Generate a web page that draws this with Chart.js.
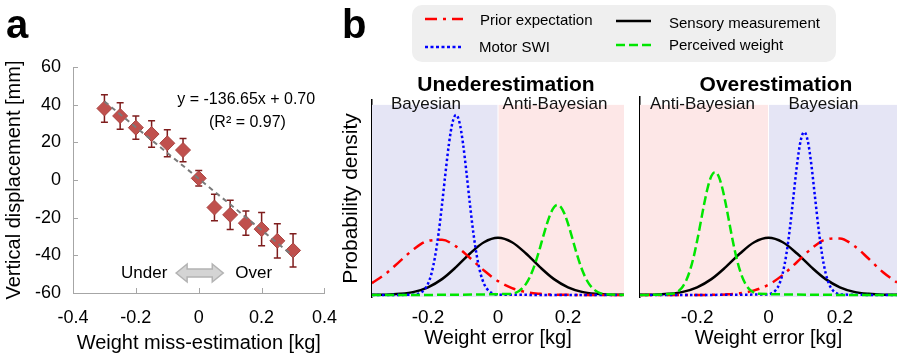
<!DOCTYPE html>
<html>
<head>
<meta charset="utf-8">
<script src="https://cdn.jsdelivr.net/npm/chart.js@4.4.1/dist/chart.umd.min.js"></script>
<style>
  body { margin: 0; background: #fff; width: 899px; height: 359px; position: relative; overflow: hidden; }
  canvas { position: absolute; top: 0; }
  #overlay { position: absolute; left: 0; top: 0; z-index: 2; pointer-events: none; }
  #overlay text { font-family: "Liberation Sans", Arial, sans-serif; fill: #000; }
</style>
</head>
<body>
<canvas id="chartA" width="340" height="359" style="left:0"></canvas>
<canvas id="chartUnder" width="300" height="359" style="left:330px"></canvas>
<canvas id="chartOver" width="269" height="359" style="left:630px"></canvas>

<svg id="overlay" width="899" height="359">
  <text x="6" y="38" font-size="40" font-weight="bold">a</text>
  <text x="342" y="38" font-size="40" font-weight="bold">b</text>
  <g transform="translate(412,5)">
    <rect width="424" height="57" rx="10" fill="#efefef"/>
    <line x1="13" x2="51" y1="14" y2="14" stroke="#ff0000" stroke-width="2.5" stroke-dasharray="12 6 3 6"/>
    <text x="68" y="20" font-size="15">Prior expectation</text>
    <line x1="13" x2="51" y1="42" y2="42" stroke="#0000ff" stroke-width="2.5" stroke-dasharray="3 2.5"/>
    <text x="67" y="47" font-size="15">Motor SWI</text>
    <line x1="204" x2="239" y1="16" y2="16" stroke="#000" stroke-width="2.5"/>
    <text x="257" y="23" font-size="15">Sensory measurement</text>
    <line x1="204" x2="239" y1="40" y2="40" stroke="#00e600" stroke-width="2.5" stroke-dasharray="9 4"/>
    <text x="257" y="45" font-size="15">Perceived weight</text>
  </g>
  <text x="506" y="91" font-size="21" font-weight="bold" text-anchor="middle">Unederestimation</text>
  <text x="776" y="91" font-size="21" font-weight="bold" text-anchor="middle">Overestimation</text>
</svg>

<script>
// ---- panel a: displacement vs miss-estimation ----
const missEst = [-0.3, -0.25, -0.2, -0.15, -0.1, -0.05, 0, 0.05, 0.1, 0.15, 0.2, 0.25, 0.3];
const displacement = [38.0, 34.0, 27.8, 24.4, 19.5, 15.9, 0.9, -14.6, -18.5, -22.9, -26.1, -32.3, -37.4];
const displacementErr = [7.3, 7.0, 6.2, 7.0, 7.2, 6.2, 4.1, 7.1, 7.8, 6.5, 8.8, 9.1, 8.8];
const fitX = [-0.3, 0.3];
const fitY = [41.7, -40.3];
const aXTicks = [-0.4, -0.2, 0, 0.2, 0.4];
const aYTicks = [-60, -40, -20, 0, 20, 40, 60];

// ---- panel b: curves ----
const bTicks = [-0.2, 0, 0.2];
const wideX = [-0.36, -0.32, -0.28, -0.24, -0.2, -0.16, -0.12, -0.08, -0.04, 0, 0.04, 0.08, 0.12, 0.16, 0.2, 0.24, 0.28, 0.32, 0.36];
const sensory = [0.01, 0.02, 0.08, 0.22, 0.54, 1.11, 1.95, 2.90, 3.69, 4.0, 3.69, 2.90, 1.95, 1.11, 0.54, 0.22, 0.08, 0.02, 0.01];
const priorUnder = [0.83, 1.50, 2.37, 3.22, 3.79, 3.86, 3.40, 2.59, 1.71, 0.97, 0.48, 0.20, 0.08, 0.02, 0.01, 0, 0, 0, 0];
const priorOver = [0, 0, 0, 0, 0, 0.01, 0.04, 0.12, 0.32, 0.72, 1.40, 2.31, 3.24, 3.88, 3.96, 3.44, 2.55, 1.61, 0.87];

const motorUnderX = [-0.36, -0.24, -0.23, -0.22, -0.21, -0.2, -0.19, -0.18, -0.17, -0.16, -0.15, -0.14, -0.13, -0.12,
  -0.11, -0.1, -0.09, -0.08, -0.07, -0.06, -0.05, -0.04, -0.03, -0.02, -0.01, 0, 0.36];
const motorUnder = [0, 0.02, 0.07, 0.17, 0.38, 0.79, 1.51, 2.66, 4.27, 6.31, 8.54, 10.60, 12.07, 12.6,
  12.07, 10.60, 8.54, 6.31, 4.27, 2.66, 1.51, 0.79, 0.38, 0.17, 0.07, 0.02, 0];
const perceivedUnderX = [-0.36, 0.04, 0.05, 0.06, 0.07, 0.08, 0.09, 0.1, 0.11, 0.12, 0.13, 0.14, 0.15, 0.16, 0.17,
  0.18, 0.19, 0.2, 0.21, 0.22, 0.23, 0.24, 0.25, 0.26, 0.27, 0.28, 0.29, 0.3, 0.36];
const perceivedUnder = [0, 0.08, 0.15, 0.28, 0.48, 0.78, 1.21, 1.78, 2.49, 3.30, 4.17, 4.99, 5.68, 6.14, 6.3,
  6.14, 5.68, 4.99, 4.17, 3.30, 2.49, 1.78, 1.21, 0.78, 0.48, 0.28, 0.15, 0.08, 0];

const motorOverX = [-0.36, 0, 0.01, 0.02, 0.03, 0.04, 0.05, 0.06, 0.07, 0.08, 0.09, 0.1,
  0.11, 0.12, 0.13, 0.14, 0.15, 0.16, 0.17, 0.18, 0.19, 0.2, 0.36];
const motorOver = [0, 0.04, 0.13, 0.33, 0.75, 1.54, 2.84, 4.69, 6.91, 9.13, 10.78, 11.4,
  10.78, 9.13, 6.91, 4.69, 2.84, 1.54, 0.75, 0.33, 0.13, 0.04, 0];
const perceivedOverX = [-0.36, -0.27, -0.26, -0.25, -0.24, -0.23, -0.22, -0.21, -0.2, -0.19, -0.18, -0.17, -0.16, -0.15,
  -0.14, -0.13, -0.12, -0.11, -0.1, -0.09, -0.08, -0.07, -0.06, -0.05, -0.04, -0.03, 0.36];
const perceivedOver = [0, 0.08, 0.16, 0.32, 0.60, 1.05, 1.72, 2.63, 3.78, 5.08, 6.40, 7.54, 8.32, 8.6,
  8.32, 7.54, 6.40, 5.08, 3.78, 2.63, 1.72, 1.05, 0.60, 0.32, 0.16, 0.08, 0];

const FONT = '"Liberation Sans", Arial, sans-serif';
Chart.defaults.font.family = FONT;
Chart.defaults.color = '#000';

// error bars, inward tick marks and the text/arrow annotations of panel a
const panelAExtras = {
  id: 'panelAExtras',
  beforeDatasetsDraw(chart) {
    const { ctx, scales: { x, y } } = chart;
    ctx.save();
    ctx.strokeStyle = '#7f1d1d';
    ctx.lineWidth = 1.5;
    missEst.forEach((v, i) => {
      const px = x.getPixelForValue(v);
      const top = y.getPixelForValue(displacement[i] + displacementErr[i]);
      const bot = y.getPixelForValue(displacement[i] - displacementErr[i]);
      ctx.beginPath();
      ctx.moveTo(px, top); ctx.lineTo(px, bot);
      ctx.moveTo(px - 3.5, top); ctx.lineTo(px + 3.5, top);
      ctx.moveTo(px - 3.5, bot); ctx.lineTo(px + 3.5, bot);
      ctx.stroke();
    });
    ctx.restore();
  },
  afterDraw(chart) {
    const { ctx, chartArea, scales: { x, y } } = chart;
    ctx.save();
    ctx.strokeStyle = '#a6a6a6';
    ctx.lineWidth = 1;
    ctx.beginPath();
    aYTicks.forEach(v => {
      const py = Math.round(y.getPixelForValue(v)) + 0.5;
      ctx.moveTo(chartArea.left, py); ctx.lineTo(chartArea.left + 5, py);
    });
    aXTicks.forEach(v => {
      const px = Math.round(x.getPixelForValue(v)) + 0.5;
      ctx.moveTo(px, chartArea.bottom); ctx.lineTo(px, chartArea.bottom - 5);
    });
    ctx.stroke();

    // double arrow
    const x1 = x.getPixelForValue(-0.072), x2 = x.getPixelForValue(0.078), yc = y.getPixelForValue(-49.4);
    const hl = 11, hh = 9, sh = 4;
    ctx.beginPath();
    ctx.moveTo(x1, yc);
    ctx.lineTo(x1 + hl, yc - hh); ctx.lineTo(x1 + hl, yc - sh);
    ctx.lineTo(x2 - hl, yc - sh); ctx.lineTo(x2 - hl, yc - hh);
    ctx.lineTo(x2, yc);
    ctx.lineTo(x2 - hl, yc + hh); ctx.lineTo(x2 - hl, yc + sh);
    ctx.lineTo(x1 + hl, yc + sh); ctx.lineTo(x1 + hl, yc + hh);
    ctx.closePath();
    ctx.fillStyle = '#d4d4d4';
    ctx.fill();
    ctx.strokeStyle = '#b3b3b3';
    ctx.lineWidth = 1.5;
    ctx.stroke();

    ctx.fillStyle = '#000';
    ctx.textBaseline = 'middle';
    ctx.font = '17px ' + FONT;
    ctx.textAlign = 'right';
    ctx.fillText('Under', x.getPixelForValue(-0.1), yc);
    ctx.textAlign = 'left';
    ctx.fillText('Over', x.getPixelForValue(0.116), yc);

    ctx.font = '16px ' + FONT;
    ctx.textAlign = 'center';
    ctx.fillText('y = -136.65x + 0.70', x.getPixelForValue(0.151), y.getPixelForValue(42.5));
    ctx.fillText('(R\u00b2 = 0.97)', x.getPixelForValue(0.155), y.getPixelForValue(30.3));
    ctx.restore();
  }
};

new Chart(document.getElementById('chartA'), {
  type: 'scatter',
  data: {
    datasets: [
      {
        type: 'line',
        data: fitX.map((v, i) => ({ x: v, y: fitY[i] })),
        borderColor: '#7a7a7a',
        borderWidth: 2,
        borderDash: [5, 4],
        pointRadius: 0,
        fill: false
      },
      {
        data: missEst.map((v, i) => ({ x: v, y: displacement[i] })),
        pointStyle: 'rectRot',
        pointRadius: 7.5,
        backgroundColor: '#c0504d',
        borderColor: '#a94340',
        borderWidth: 1
      }
    ]
  },
  options: {
    responsive: false,
    animation: false,
    devicePixelRatio: 1,
    layout: { padding: { top: 67, right: 0, left: 0, bottom: 0 } },
    plugins: { legend: { display: false }, tooltip: { enabled: false } },
    scales: {
      x: {
        type: 'linear', min: -0.4, max: 0.4,
        afterBuildTicks: s => { s.ticks = aXTicks.map(v => ({ value: v })); },
        afterFit: s => { s.height = 66; },
        // invisible tick marks push the labels down without widening the side padding
        grid: { drawOnChartArea: false, drawTicks: true, tickLength: 11, tickColor: 'rgba(0,0,0,0)' },
        border: { color: '#a6a6a6' },
        ticks: { font: { size: 18 }, padding: 3, maxRotation: 0 },
        title: { display: true, text: 'Weight miss-estimation [kg]', font: { size: 20 }, padding: { bottom: 4 } }
      },
      y: {
        min: -60, max: 60,
        afterBuildTicks: s => { s.ticks = aYTicks.map(v => ({ value: v })); },
        afterFit: s => { s.width = 73; },
        grid: { drawOnChartArea: false, drawTicks: false },
        border: { color: '#a6a6a6' },
        ticks: { font: { size: 18 }, padding: 12 },
        title: { display: true, text: 'Vertical displacement [mm]', font: { size: 20 }, padding: { top: 2 } }
      }
    }
  },
  plugins: [panelAExtras]
});

// shaded Bayesian / Anti-Bayesian zones behind the curves
const BLUE_BG = '#e5e5f5';
const PINK_BG = '#fde7e7';
const zoneTop = 13.3;
const zones = {
  id: 'zones',
  beforeDatasetsDraw(chart, args, opts) {
    const { ctx, chartArea, scales: { x, y } } = chart;
    const top = y.getPixelForValue(zoneTop);
    ctx.save();
    opts.list.forEach(z => {
      const l = x.getPixelForValue(z.from) + (z.from > x.min ? 0.5 : 0);
      const r = x.getPixelForValue(z.to) - (z.to < x.max ? 0.5 : 0);
      ctx.fillStyle = z.color;
      ctx.fillRect(l, top, r - l, chartArea.bottom - top);
    });
    ctx.fillStyle = '#111';
    ctx.font = '17px ' + FONT;
    ctx.textAlign = 'center';
    ctx.textBaseline = 'middle';
    opts.list.forEach(z => {
      ctx.fillText(z.label, x.getPixelForValue(z.labelAt), top - 1);
    });
    ctx.restore();
  }
};

const curve = (xs, ys) => xs.map((v, i) => ({ x: v, y: ys[i] }));

function densityChart(id, opt) {
  return new Chart(document.getElementById(id), {
    type: 'line',
    data: {
      datasets: [
        { data: curve(opt.perceivedX, opt.perceived), borderColor: '#00e600', borderDash: [9, 4] },
        { data: curve(opt.motorX, opt.motor), borderColor: '#0000ff', borderDash: [2.5, 2.5] },
        { data: curve(wideX, opt.prior), borderColor: '#ff0000', borderDash: [12, 6, 3, 6] },
        { data: curve(wideX, sensory), borderColor: '#000000' }
      ].map(d => Object.assign(d, { borderWidth: 2.5, pointRadius: 0, fill: false, cubicInterpolationMode: 'monotone' }))
    },
    options: {
      responsive: false,
      animation: false,
      devicePixelRatio: 1,
      layout: { padding: { top: opt.top, right: opt.right, left: 0, bottom: 0 } },
      plugins: { legend: { display: false }, tooltip: { enabled: false }, zones: { list: opt.zones } },
      scales: {
        x: {
          type: 'linear', min: -0.36, max: 0.36,
          afterBuildTicks: s => { s.ticks = bTicks.map(v => ({ value: v })); },
          afterFit: s => { s.height = 62; },
          grid: { drawOnChartArea: false, drawTicks: false },
          border: { display: false },
          ticks: { font: { size: 19 }, padding: 9, maxRotation: 0 },
          title: { display: true, text: 'Weight error [kg]', font: { size: 20 }, padding: { bottom: 9 } }
        },
        y: {
          min: -0.14, max: opt.ymax,
          afterFit: s => { s.width = opt.yWidth; },
          grid: { drawOnChartArea: false, drawTicks: false },
          border: { color: '#000', width: 1.5 },
          ticks: { display: false },
          title: { display: opt.yTitle, text: 'Probability density', font: { size: 21 }, padding: { top: 9 } }
        }
      }
    },
    plugins: [zones]
  });
}

densityChart('chartUnder', {
  top: 100, right: 6, yWidth: 42, ymax: 13.64, yTitle: true,
  prior: priorUnder, motorX: motorUnderX, motor: motorUnder,
  perceivedX: perceivedUnderX, perceived: perceivedUnder,
  zones: [
    { from: -0.36, to: 0, color: BLUE_BG, label: 'Bayesian', labelAt: -0.206 },
    { from: 0, to: 0.36, color: PINK_BG, label: 'Anti-Bayesian', labelAt: 0.163 }
  ]
});

densityChart('chartOver', {
  top: 97, right: 2, yWidth: 10, ymax: 13.85, yTitle: false,
  prior: priorOver, motorX: motorOverX, motor: motorOver,
  perceivedX: perceivedOverX, perceived: perceivedOver,
  zones: [
    { from: -0.36, to: 0, color: PINK_BG, label: 'Anti-Bayesian', labelAt: -0.185 },
    { from: 0, to: 0.36, color: BLUE_BG, label: 'Bayesian', labelAt: 0.154 }
  ]
});
</script>
</body>
</html>
